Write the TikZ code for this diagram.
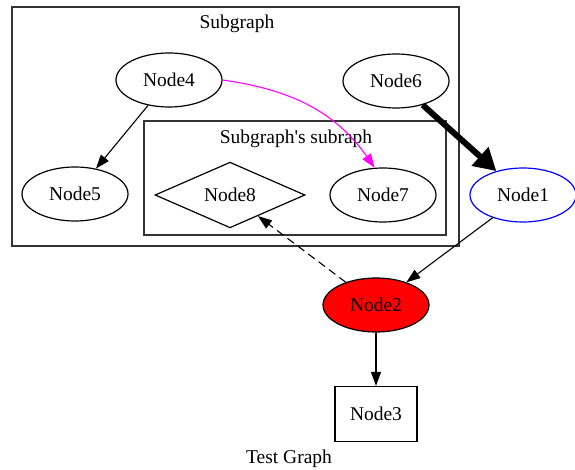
\documentclass[tikz,border=0pt]{standalone}
\usepackage{fontspec}
\setmainfont{Liberation Serif}
\usetikzlibrary{shapes.geometric,arrows.meta}
\definecolor{fucsia}{RGB}{255,0,255}
\begin{document}
\begin{tikzpicture}[x=1pt, y=1pt,
  every node/.style={font=\fontsize{19.5}{23}\selectfont},
  nodo/.style={draw, line width=1.2pt, ellipse, inner sep=0pt, minimum width=106pt, minimum height=54pt},
  rombo/.style={draw, line width=1.2pt, diamond, inner sep=0pt, minimum width=150pt, minimum height=56pt},
  caja/.style={draw, line width=1.2pt, rectangle, inner sep=0pt, minimum width=82pt, minimum height=55pt},
  flecha/.style={-{Triangle[length=14pt,width=10pt]}, line width=1.1pt},
  cluster/.style={draw=black!80, line width=1.3pt}] % {{{
\useasboundingbox (0,0) rectangle (575,-470);
\begin{scope} % Subgraph {{{
 \draw[cluster] (12,-7) rectangle (459,-246);
 \node (lblsub) at (237,-24) {Subgraph};
 \node[nodo] (n4) at (169,-80) {Node4};
 \node[nodo] (n6) at (396,-81) {Node6};
 \node[nodo] (n5) at (75,-194) {Node5};
\end{scope} % }}}
\begin{scope} % Subgraph's subraph {{{
 \draw[cluster] (144,-121) rectangle (446,-235);
 \node (lblsubsub) at (296,-139) {Subgraph\textquotesingle s subraph};
 \node[rombo] (n8) at (230,-195) {Node8};
 \node[nodo] (n7) at (383,-195) {Node7};
\end{scope} % }}}
\node[nodo, draw=blue] (n1) at (523,-195) {Node1};
\node[nodo, fill=red] (n2) at (376,-305) {Node2};
\node[caja] (n3) at (376,-414) {Node3};
\node (titulo) at (289,-459) {Test Graph};
% aristas
\draw[flecha] (n4) -- (n5);
\draw[flecha, fucsia] (n4.east) to[out=-8, in=125] (n7.107);
\draw[-{Triangle[length=22pt,width=24pt]}, line width=6pt] (n6) -- (n1);
\draw[flecha] (n1) -- (n2);
\draw[flecha, dash pattern=on 8pt off 5pt] (n2) -- (n8);
\draw[flecha] (n2) -- (n3);
\end{tikzpicture} % }}}
\end{document}
